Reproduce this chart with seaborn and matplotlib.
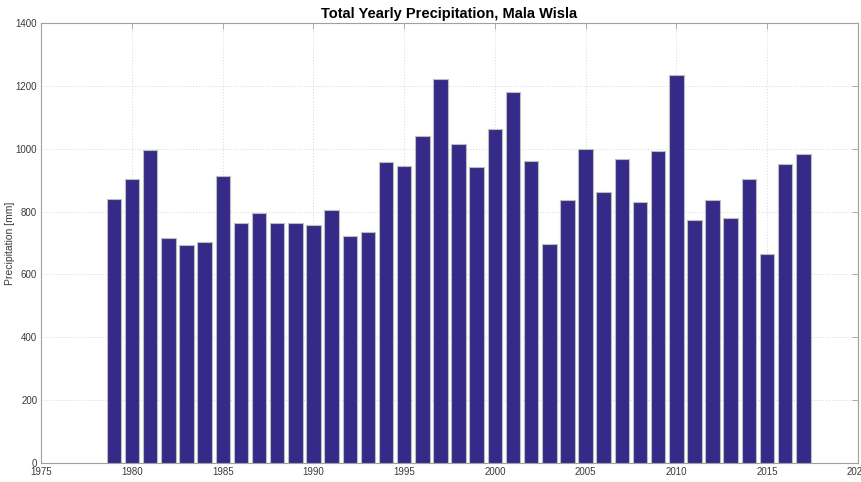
import matplotlib

matplotlib.use("Agg")
import matplotlib.pyplot as plt
import pandas as pd
import seaborn as sns

# ===================== DATA =====================
years = list(range(1979, 2018))
precip_mm = [
    840, 905, 995, 716, 692, 704, 913, 765, 795, 762,
    765, 757, 805, 723, 734, 959, 946, 1041, 1223, 1015,
    943, 1063, 1182, 961, 698, 837, 1000, 863, 966, 829,
    992, 1235, 774, 837, 780, 903, 665, 952, 983,
]
x_ticks = list(range(1975, 2021, 5))
y_ticks = list(range(0, 1401, 200))

df = pd.DataFrame({"year": years, "precip": precip_mm})

# ===================== STYLE =====================
sns.set_style("white")
plt.rcParams["font.family"] = ["Liberation Sans", "DejaVu Sans"]

axis_gray = "#a0a0a0"
text_gray = "#3a3a3a"

fig = plt.figure(figsize=(8.62, 4.82), dpi=100)
ax = fig.add_axes([0.048, 0.040, 0.947, 0.912])

sns.barplot(
    data=df,
    x="year",
    y="precip",
    native_scale=True,
    width=0.8,
    color="#352a87",
    saturation=1,
    edgecolor="#bdbdbd",
    linewidth=0.8,
    ax=ax,
    zorder=3,
)

ax.set_xlim(1975, 2020)
ax.set_ylim(0, 1400)
ax.set_xticks(x_ticks)
ax.set_yticks(y_ticks)
ax.set_xticklabels([str(t) for t in x_ticks])
ax.set_yticklabels([str(t) for t in y_ticks])

# light dotted grid like the original
ax.grid(True, linestyle=(0, (1, 2)), color="#d6d6d6", linewidth=0.7, zorder=0)
ax.set_axisbelow(True)

for side in ["top", "right", "bottom", "left"]:
    ax.spines[side].set_visible(True)
    ax.spines[side].set_color(axis_gray)
    ax.spines[side].set_linewidth(0.8)

ax.tick_params(
    axis="both", direction="in", length=4, width=0.6, color=axis_gray,
    labelsize=7, labelcolor=text_gray, top=True, right=True, pad=3,
)

ax.set_xlabel("")
ax.set_ylabel("Precipitation [mm]", fontsize=7.5, color=text_gray, labelpad=0.5)
ax.set_title("Total Yearly Precipitation, Mala Wisla",
             fontsize=10.5, fontweight="bold", color="black", pad=4)

fig.savefig("out.png", dpi=100)
plt.close(fig)
